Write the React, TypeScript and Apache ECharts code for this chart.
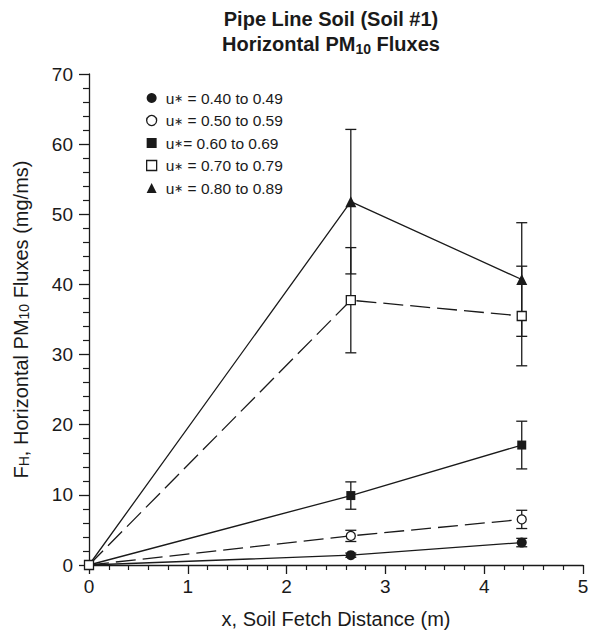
import React, { useEffect, useRef } from "react";
import * as echarts from "echarts";

const seriesNames = [
  "u\u2217 = 0.40 to 0.49",
  "u\u2217 = 0.50 to 0.59",
  "u\u2217= 0.60 to 0.69",
  "u\u2217 = 0.70 to 0.79",
  "u\u2217 = 0.80 to 0.89",
];
const xValues = [0, 2.65, 4.38];
const flux040 = [0, 1.4, 3.2];
const err040 = [0, 0.3, 0.6];
const flux050 = [0, 4.15, 6.5];
const err050 = [0, 0.8, 1.3];
const flux060 = [0, 9.9, 17.1];
const err060 = [0, 1.95, 3.4];
const flux070 = [0, 37.75, 35.5];
const err070 = [0, 7.5, 7.1];
const flux080 = [0, 51.8, 40.7];
const err080 = [0, 10.3, 8.1];

const xTicks = { min: 0, max: 5, interval: 1 };
const yTicks = { min: 0, max: 70, interval: 10 };

const FONT = "'Liberation Sans', Arial, Helvetica, sans-serif";
const INK = "#1a1a1a";

const allFlux = [flux040, flux050, flux060, flux070, flux080];
const allErr = [err040, err050, err060, err070, err080];
const symbols = ["circle", "circle", "rect", "rect", "triangle"];
const filled = [true, false, true, false, true];
const sizes = [10, 9, 9, 9, 11];
const dashed = [false, true, false, true, false];

export default function App() {
  const ref = useRef<HTMLDivElement>(null);
  useEffect(() => {
    if (!ref.current) return;
    const chart = echarts.init(ref.current, undefined, { renderer: "svg" });

    const errData: number[][] = [];
    allFlux.forEach((ys, i) => {
      ys.forEach((y, j) => {
        if (allErr[i][j] > 0) errData.push([xValues[j], y, allErr[i][j]]);
      });
    });

    const lineSeries = allFlux.map((ys, i) => ({
      name: seriesNames[i],
      type: "line",
      z: 3,
      data: ys.map((y, j) => {
        const item: any = { value: [xValues[j], y] };
        if (j === 0 && i !== 3) item.symbol = "none";
        return item;
      }),
      symbol: symbols[i],
      symbolSize: sizes[i],
      itemStyle: {
        color: filled[i] ? INK : "#fff",
        borderColor: INK,
        borderWidth: filled[i] ? 0 : 1.3,
      },
      lineStyle: {
        color: INK,
        width: 1.3,
        type: dashed[i] ? [20, 7] : "solid",
      },
      emphasis: { disabled: true },
    }));

    const errSeries = {
      type: "custom",
      z: 2,
      data: errData,
      encode: { x: 0, y: 1 },
      renderItem: (params: any, api: any) => {
        const x = api.value(0);
        const y = api.value(1);
        const e = api.value(2);
        const top = api.coord([x, y + e]);
        const bot = api.coord([x, y - e]);
        const hw = 5.5;
        const st = { stroke: INK, lineWidth: 1.3 };
        return {
          type: "group",
          children: [
            { type: "line", shape: { x1: top[0], y1: top[1], x2: bot[0], y2: bot[1] }, style: st },
            { type: "line", shape: { x1: top[0] - hw, y1: top[1], x2: top[0] + hw, y2: top[1] }, style: st },
            { type: "line", shape: { x1: bot[0] - hw, y1: bot[1], x2: bot[0] + hw, y2: bot[1] }, style: st },
          ],
        };
      },
    };

    chart.setOption({
      animation: false,
      backgroundColor: "#fff",
      title: {
        text: "Pipe Line Soil (Soil #1)\nHorizontal PM{sub|10} Fluxes",
        left: 326,
        top: 1,
        textAlign: "center",
        textStyle: {
          fontFamily: FONT,
          fontSize: 20,
          fontWeight: "bold",
          color: INK,
          lineHeight: 25,
          rich: {
            sub: {
              fontFamily: FONT,
              fontSize: 14,
              fontWeight: "bold",
              color: INK,
              verticalAlign: "bottom",
              lineHeight: 10,
            },
          },
        },
      },
      legend: {
        orient: "vertical",
        left: 141,
        top: 85,
        itemWidth: 10,
        itemHeight: 10,
        itemGap: 6.5,
        selectedMode: false,
        formatter: (n: string) => n.replace("\u2217", "{a|\u2217}"),
        textStyle: {
          fontFamily: FONT,
          fontSize: 15.5,
          color: INK,
          padding: [0, 0, 0, 4],
          rich: { a: { fontFamily: FONT, fontSize: 11, color: INK } },
        },
        data: seriesNames.map((n, i) => ({
          name: n,
          icon: symbols[i],
          itemStyle: {
            color: filled[i] ? INK : "#fff",
            borderColor: INK,
            borderWidth: filled[i] ? 0 : 1.3,
          },
        })),
      },
      grid: { left: 89, right: 15, top: 74, bottom: 68, containLabel: false },
      xAxis: {
        type: "value",
        min: xTicks.min,
        max: xTicks.max,
        interval: xTicks.interval,
        name: "x, Soil Fetch Distance (m)",
        nameLocation: "middle",
        nameGap: 44,
        nameTextStyle: { fontFamily: FONT, fontSize: 20, color: INK },
        axisLine: { lineStyle: { color: INK, width: 1.3 } },
        axisTick: { inside: false, length: 9, lineStyle: { color: INK, width: 1.3 } },
        minorTick: { show: true, splitNumber: 5, length: 5, lineStyle: { color: INK, width: 1.2 } },
        splitLine: { show: false },
        minorSplitLine: { show: false },
        axisLabel: { fontFamily: FONT, fontSize: 19, color: INK, margin: 12 },
      },
      yAxis: {
        type: "value",
        min: yTicks.min,
        max: yTicks.max,
        interval: yTicks.interval,
        name: "F{sub|H}, Horizontal PM{sub|10} Fluxes (mg/ms)",
        nameLocation: "middle",
        nameGap: 58,
        nameTextStyle: {
          fontFamily: FONT,
          fontSize: 20,
          color: INK,
          rich: {
            sub: { fontFamily: FONT, fontSize: 14, color: INK, verticalAlign: "bottom", lineHeight: 10 },
          },
        },
        axisLine: { lineStyle: { color: INK, width: 1.3 } },
        axisTick: { inside: false, length: 10, lineStyle: { color: INK, width: 1.3 } },
        minorTick: { show: true, splitNumber: 5, length: 6, lineStyle: { color: INK, width: 1.2 } },
        splitLine: { show: false },
        minorSplitLine: { show: false },
        axisLabel: { fontFamily: FONT, fontSize: 19, color: INK, margin: 16 },
      },
      series: [errSeries, ...lineSeries],
    });
    return () => chart.dispose();
  }, []);

  return (
    <div
      ref={ref}
      style={{ position: "absolute", left: 0, top: 0, width: 598, height: 634 }}
    />
  );
}
